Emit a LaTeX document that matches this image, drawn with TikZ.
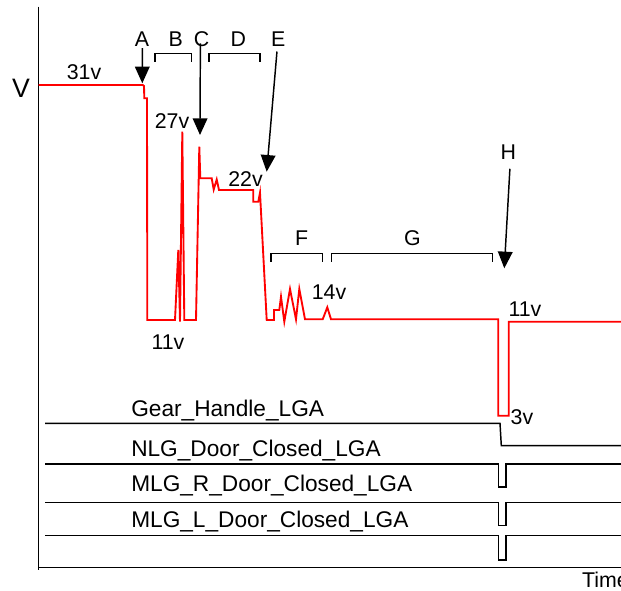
\documentclass[tikz,border=0pt]{standalone}
\usepackage{fontspec}
\setmainfont{Liberation Sans}
\usetikzlibrary{arrows.meta}
\tikzset{
  lbl/.style={inner sep=0pt, font=\fontsize{16}{18}\selectfont},
  siglbl/.style={inner sep=0pt, anchor=base west, font=\fontsize{17}{19}\selectfont},
  ax/.style={line width=1.1pt, black},
  sig/.style={line width=1.1pt, black},
  volt/.style={line width=1.4pt, red, line join=miter},
  brk/.style={line width=1.1pt, black},
  arr/.style={line width=1.1pt, black, -{Triangle[width=11pt,length=12.5pt]}}
}
\begin{document}
\begin{tikzpicture}[x=0.75pt, y=-0.75pt]
\useasboundingbox (0,0) rectangle (621,591);
% axes
\draw[ax] (38.5,6.7) -- (38.5,570);
\draw[ax] (38.5,567.7) -- (621,567.7);
\node[lbl, font=\fontsize{20}{22}\selectfont] (V) at (21,88.5) {V};
\node[lbl, fill=white, anchor=base west, inner sep=1pt] (time) at (580.5,587) {Time};
% voltage trace
\draw[volt] (38.5,85) -- (142.7,85) -- (144,86) -- (144.3,98.3) -- (147,98.3) -- (147.3,320)
  -- (175,320) -- (178.3,250) -- (180,321.7) -- (182.3,131.7) -- (184.3,320) -- (196,320)
  -- (199.3,146.7) -- (200.3,178.3) -- (211.7,178.3) -- (213.7,189.5) -- (216.7,179.5)
  -- (219,190) -- (253.3,190) -- (253.3,201.7) -- (258.3,201.7) -- (260,192.7) -- (266.7,320)
  -- (274,320) -- (274,310) -- (279.3,310) -- (281,296.7) -- (284.3,321.7) -- (290,289)
  -- (296,319.3) -- (299.3,289) -- (305,319.3) -- (322.7,319.3) -- (327.3,307.3)
  -- (331,319.3) -- (498.3,319.3) -- (498.3,415.7) -- (508.7,415.7) -- (508.7,321.7)
  -- (621,321.7);
% value labels
\node[lbl] (v31) at (84,72.5) {31v};
\node[lbl] (v27) at (172,121) {27v};
\node[lbl] (v22) at (245.5,179) {22v};
\node[lbl] (v11a) at (168,342) {11v};
\node[lbl] (v14) at (329,292.5) {14v};
\node[lbl] (v11b) at (525,309) {11v};
\node[lbl] (v3) at (522,417) {3v};
% event labels
\node[lbl] (A) at (142,39) {A};
\node[lbl] (B) at (175.7,39) {B};
\node[lbl] (C) at (201.7,39) {C};
\node[lbl] (D) at (238.3,39) {D};
\node[lbl] (E) at (278.3,39) {E};
\node[lbl] (F) at (301.7,238) {F};
\node[lbl] (G) at (412.3,238) {G};
\node[lbl] (H) at (508.3,152.5) {H};
% arrow tips
\coordinate (tA) at (142.3,83.3);
\coordinate (tC) at (200,135);
\coordinate (tE) at (266.7,171.7);
\coordinate (tH) at (504.3,268.3);
\draw[arr] ([xshift=0.2pt,yshift=-1.2pt]A.south) -- (tA);
\draw[arr] ([xshift=-1pt,yshift=2.6pt]C.south) -- (tC);
\draw[arr] ([xshift=-1pt,yshift=-3.7pt]E.south) -- (tE);
\draw[arr] ([xshift=1.2pt,yshift=-6.5pt]H.south) -- (tH);
% brackets
\draw[brk] (155,61.7) -- (155,53.3) -- (191.7,53.3) -- (191.7,61.7);
\draw[brk] (209,61.7) -- (209,53.3) -- (260,53.3) -- (260,61.7);
\draw[brk] (271,261.7) -- (271,253.3) -- (322.7,253.3) -- (322.7,261.7);
\draw[brk] (331.7,261.7) -- (331.7,253.3) -- (492.7,253.3) -- (492.7,261.7);
% signal lines
\draw[sig] (45,423.3) -- (500,423.3) -- (501.3,445.7) -- (621,445.7);
\draw[sig] (45,464) -- (498.7,464) -- (498.7,487) -- (506,487) -- (506,464) -- (621,464);
\draw[sig] (45,502.5) -- (498.7,502.5) -- (498.7,525.7) -- (506,525.7) -- (506,502.5) -- (621,502.5);
\draw[sig] (45,535.7) -- (498.7,535.7) -- (498.7,560) -- (506,560) -- (506,535.7) -- (621,535.7);
\node[siglbl] (gear) at (131,416.7) {Gear\_Handle\_LGA};
\node[siglbl] (nlg) at (131,456.7) {NLG\_Door\_Closed\_LGA};
\node[siglbl] (mlgr) at (131,491.7) {MLG\_R\_Door\_Closed\_LGA};
\node[siglbl] (mlgl) at (131,527) {MLG\_L\_Door\_Closed\_LGA};
\end{tikzpicture}
\end{document}
